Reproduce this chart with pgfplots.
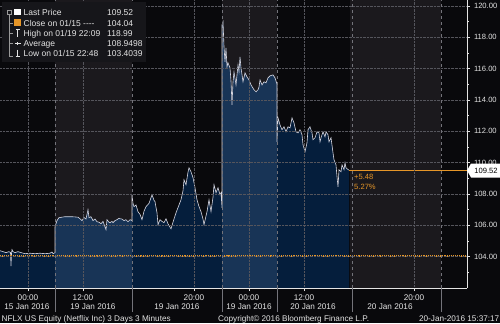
\documentclass[border=0pt]{standalone}
\usepackage{fontspec}
\setmainfont{Liberation Sans}
\usepackage{pgfplots}
\pgfplotsset{compat=1.18}
\usepackage{pgfplotstable}
\definecolor{bgblack}{RGB}{9,9,12}
\definecolor{bggray}{RGB}{27,25,29}
\definecolor{navydark}{RGB}{5,30,60}
\definecolor{navylight}{RGB}{24,52,86}
\definecolor{linecol}{RGB}{215,215,225}
\definecolor{bborange}{RGB}{230,150,40}
\definecolor{gridcol}{RGB}{85,85,92}
\definecolor{sepcol}{RGB}{115,115,122}
\definecolor{legbg}{RGB}{22,22,26}
\definecolor{txt}{RGB}{228,228,228}
\newcommand{\fsA}{\fontsize{8.2bp}{9bp}\selectfont}
\newcommand{\fsL}{\fontsize{8.5bp}{9bp}\selectfont}
\newcommand{\fsY}{\fontsize{7.6bp}{9bp}\selectfont}
\pgfplotstableread{
x y
0 104.38
3 104.32
6 104.26
9 104.32
10.5 104.26
11 103.40
11.5 104.20
12 104.45
13 104.32
15 104.26
18 104.32
21 104.26
25 104.19
30 104.22
35 104.19
40 104.22
45 104.19
50 104.22
52 104.30
53 104.19
55 104.25
55 105.91
57 106.30
59 106.49
65 106.55
72 106.55
78 106.52
80 106.42
82 106.30
84 106.50
86 106.40
88 107.00
89 106.49
91 106.55
93 106.30
95 106.40
97 106.23
99 106.20
101 106.10
103 106.25
105 105.90
106 105.72
107 106.36
109 106.20
110 106.17
112 106.25
113 106.17
115 106.30
117 106.36
119 106.45
120 106.42
122 106.40
124 106.30
126 106.36
128 106.23
130 106.36
132 106.30
132 107.95
133 107.40
134 107.19
136 107.30
138 106.87
140 106.70
142 106.36
144 106.90
146 107.19
149 107.40
152 107.95
154 107.60
155 107.51
157 106.80
158 106.04
160 106.36
162 106.25
164 106.17
166 106.42
168 106.10
171 105.78
173 106.20
176 106.80
179 107.30
181 107.63
183 108.20
184 108.91
186 108.59
188 109.40
189 109.67
191 109.42
193 109.04
195 108.40
197 107.63
199 107.20
201 106.87
203 106.40
204 106.04
206 106.60
207 106.87
209 107.63
211 106.87
213 107.80
214 108.59
216 108.08
218 108.40
220 107.95
221 108.08
222 107.12
222 118.79
223 118.99
224 117.39
225 116.43
226 117.32
227 116.11
228 116.37
230 116.05
231 115.20
232 113.69
233 115.16
234 115.79
236 114.96
238 116.24
239 115.79
240 116.75
241 116.05
243 115.16
245 115.73
247 115.47
249 115.28
251 114.96
254 114.65
256 114.52
258 114.65
259 114.84
260 115.28
262 114.96
264 115.16
266 115.09
268 115.41
270 115.54
273 115.60
275 115.41
277 115.00
277 111.33
278 112.86
280 112.41
282 112.10
284 112.29
286 111.97
288 112.29
290 112.22
292 112.86
294 112.54
296 111.97
298 111.90
300 112.10
302 111.78
303 111.14
305 110.69
307 111.27
308 112.10
310 112.29
312 111.90
313 111.46
315 111.59
317 111.97
319 111.90
320 111.33
321 111.59
323 111.97
325 111.65
326 111.97
328 111.78
329 111.33
331 111.59
333 110.63
334 110.18
336 109.86
337 109.10
338 108.46
339 109.55
341 109.42
342 109.86
344 109.55
345 109.99
346 109.67
347 109.61
349 109.52
}\pricedata
\begin{document}
\begin{tikzpicture}[x=1bp,y=1bp]
\path[use as bounding box] (0,0) rectangle (500,323);
\fill[bgblack] (0,0) rectangle (500,323);
\begin{axis}[
  at={(0bp,35bp)}, anchor=south west,
  scale only axis, width=467bp, height=288bp,
  xmin=0, xmax=467, ymin=102, ymax=120.38,
  axis on top,
  axis x line*=bottom, axis y line*=right,
  axis line style={txt, line width=0.6bp},
  xtick={28,83,194,249,304,414},
  xticklabels={00:00,12:00,20:00,00:00,12:00,20:00},
  xticklabel style={txt, font=\fsA, anchor=base, yshift=-9bp},
  ytick={104,106,...,120},
  minor ytick={103,105,...,119},
  yticklabel style={txt, font=\fsY, xshift=0.5bp,
    /pgf/number format/.cd, fixed, fixed zerofill, precision=2, assume math mode=true},
  tick style={txt, line width=0.5bp},
  major tick length=3bp, minor tick length=2bp,
  tick align=outside,
  xmajorgrids, ymajorgrids,
  grid style={gridcol, densely dotted, line width=0.5bp},
]
% background session bands
\fill[bgblack] (axis cs:0,102) rectangle (axis cs:55,120.38);
\fill[bggray] (axis cs:55,102) rectangle (axis cs:132,120.38);
\fill[bgblack] (axis cs:132,102) rectangle (axis cs:222,120.38);
\fill[bggray] (axis cs:222,102) rectangle (axis cs:277,120.38);
\fill[bgblack] (axis cs:277,102) rectangle (axis cs:350,120.38);
\fill[bggray] (axis cs:350,102) rectangle (axis cs:441,120.38);
\fill[bgblack] (axis cs:441,102) rectangle (axis cs:467,120.38);
% area under price
\addplot[fill=navydark, draw=none] table {\pricedata} \closedcycle;
\addplot[fill=navylight, draw=none, restrict x to domain=55:132] table {\pricedata} \closedcycle;
\addplot[fill=navylight, draw=none, restrict x to domain=222:277] table {\pricedata} \closedcycle;
% price line
\addplot[linecol, line width=0.6bp] table {\pricedata};
% previous close
\addplot[bborange, densely dotted, line width=1.1bp] coordinates {(0,104.04) (467,104.04)};
% last price line
\addplot[bborange, line width=0.7bp] coordinates {(349,109.52) (467,109.52)};
\end{axis}
% session separators
\foreach \sx in {55,132,222,277,352,441}{
  \draw[sepcol, dashed, line width=0.5bp] (\sx,35) -- (\sx,323);
  \draw[sepcol, line width=0.5bp] (\sx,11) -- (\sx,35);
}
% last price tag
\fill[white] (467,152.5) -- (471,159.5) -- (500,159.5) -- (500,145.5) -- (471,145.5) -- cycle;
\node[black, font=\fsY, inner sep=0, anchor=center] at (486,152.5) {109.52};
\node[bborange, font=\fsY, inner sep=0, anchor=base west] at (354,144) {+5.48};
\node[bborange, font=\fsY, inner sep=0, anchor=base west] at (354,133.5) {5.27\%};
% date labels
\foreach \px/\lab in {27/{15 Jan 2016}, 93/{19 Jan 2016}, 177/{19 Jan 2016}, 249/{19 Jan 2016}, 313/{20 Jan 2016}, 390/{20 Jan 2016}}{
  \node[txt, font=\fsA, inner sep=0, anchor=base] at (\px,14) {\lab};
}
% legend
\fill[legbg] (2,261) rectangle (146,321);
\draw[gray!80, line width=0.4bp] (7.5,308.5) rectangle (11.5,312.5);
\draw[gray!80, line width=0.4bp] (9.5,308.5) -- (9.5,267) -- (13,267);
\foreach \ry in {300,290,280}{\draw[gray!80, line width=0.4bp] (9.5,\ry) -- (13,\ry);}
\fill[white] (14,307.5) rectangle (20.5,314);
\fill[bborange] (14,297) rectangle (20.5,303.5);
\draw[txt, line width=0.5bp] (15.5,293.5) -- (19.5,293.5) (17.5,293.5) -- (17.5,286.5);
\draw[txt, line width=0.5bp] (14.5,280) -- (20.5,280) (17.5,278.5) -- (17.5,281.5);
\draw[txt, line width=0.5bp] (17.5,273.5) -- (17.5,266.5) (15.5,266.5) -- (19.5,266.5);
\node[txt, font=\fsL, inner sep=0, anchor=base west] at (23.5,307.5) {Last Price};
\node[txt, font=\fsL, inner sep=0, anchor=base west] at (23.5,297) {Close on 01/15 -{}-{}-{}-};
\node[txt, font=\fsL, inner sep=0, anchor=base west] at (23.5,287) {High on 01/19 22:09};
\node[txt, font=\fsL, inner sep=0, anchor=base west] at (23.5,277) {Average};
\node[txt, font=\fsL, inner sep=0, anchor=base west] at (23.5,267) {Low on 01/15 22:48};
\node[txt, font=\fsL, inner sep=0, anchor=base west] at (107,307.5) {109.52};
\node[txt, font=\fsL, inner sep=0, anchor=base west] at (107,297) {104.04};
\node[txt, font=\fsL, inner sep=0, anchor=base west] at (107,287) {118.99};
\node[txt, font=\fsL, inner sep=0, anchor=base west] at (107,277) {108.9498};
\node[txt, font=\fsL, inner sep=0, anchor=base west] at (107,267) {103.4039};
% footer
\node[txt, font=\fsA, inner sep=0, anchor=base west] at (1.5,2) {NFLX US Equity (Netflix Inc) 3 Days 3 Minutes};
\node[txt, font=\fsA, inner sep=0, anchor=base west] at (218,2) {Copyright© 2016 Bloomberg Finance L.P.};
\node[txt, font=\fsA, inner sep=0, anchor=base east] at (499.5,2) {20-Jan-2016 15:37:17};
\end{tikzpicture}
\end{document}
